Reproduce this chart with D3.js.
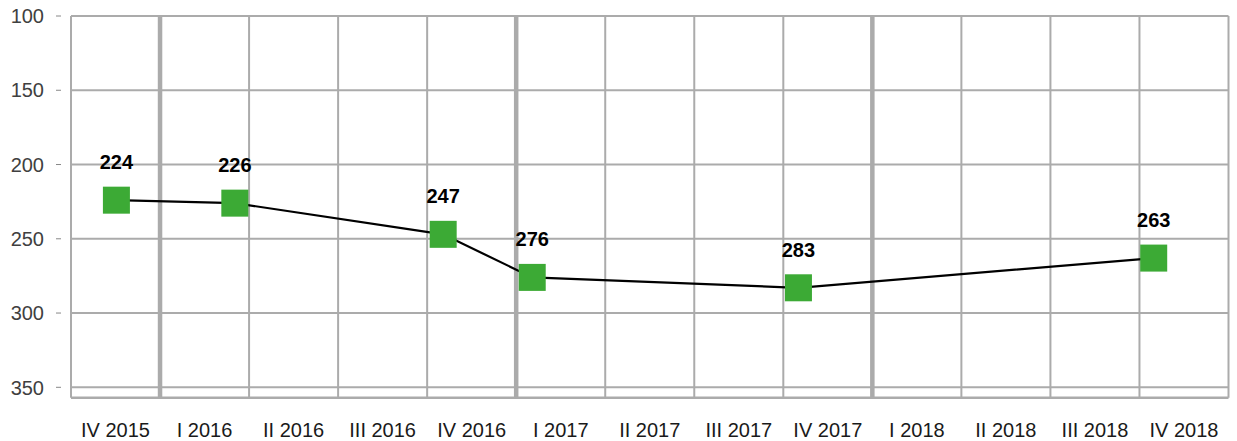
<!DOCTYPE html>
<html>
<head>
<meta charset="utf-8">
<script src="https://cdn.jsdelivr.net/npm/d3@7"></script>
<style>
  html, body { margin: 0; padding: 0; background: #fff; }
  svg { display: block; font-family: "Liberation Sans", Arial, sans-serif; }
</style>
</head>
<body>
<svg id="chart" width="1237" height="441"></svg>
<script>
// Category (quarter) labels along the x axis
const categories = ["IV 2015", "I 2016", "II 2016", "III 2016", "IV 2016", "I 2017", "II 2017",
                    "III 2017", "IV 2017", "I 2018", "II 2018", "III 2018", "IV 2018"];
// Year boundaries (index of the first quarter of each year)
const yearStarts = [1, 5, 9];
// Series: position in quarters from the start of IV 2015, and value
const timeIndex = [0.51, 1.84, 4.18, 5.18, 8.17, 12.16];
const values = [224, 226, 247, 276, 283, 263];
// Y axis ticks
const yTicks = [100, 150, 200, 250, 300, 350];

(function () {
const svg = d3.select("#chart");
const mLeft = 71, mRight = 1228.5, mTop = 16, mBottom = 397.7;

const x = d3.scaleLinear().domain([0, categories.length]).range([mLeft, mRight]);
const y = d3.scaleLinear().domain([100, 357]).range([mTop, mBottom]);

const grid = svg.append("g");
const gridColor = "#ababab";

// horizontal gridlines
grid.selectAll("line.h").data(yTicks).join("line")
  .attr("x1", mLeft).attr("x2", mRight)
  .attr("y1", d => y(d)).attr("y2", d => y(d))
  .attr("stroke", gridColor).attr("stroke-width", 2);

// vertical gridlines
const vIdx = d3.range(0, categories.length + 1);
grid.selectAll("line.v").data(vIdx).join("line")
  .attr("x1", d => x(d)).attr("x2", d => x(d))
  .attr("y1", mTop).attr("y2", mBottom)
  .attr("stroke", gridColor)
  .attr("stroke-width", d => yearStarts.includes(d) ? 4.5 : 2);

// bottom border
grid.append("line")
  .attr("x1", mLeft).attr("x2", mRight)
  .attr("y1", mBottom).attr("y2", mBottom)
  .attr("stroke", gridColor).attr("stroke-width", 2.5);

// y axis tick marks and labels
const yAxis = svg.append("g");
yAxis.selectAll("line").data(yTicks).join("line")
  .attr("x1", 56).attr("x2", 61)
  .attr("y1", d => y(d)).attr("y2", d => y(d))
  .attr("stroke", "#888").attr("stroke-width", 1);
yAxis.selectAll("text").data(yTicks).join("text")
  .attr("x", 44).attr("y", d => y(d))
  .attr("dy", "0.36em")
  .attr("text-anchor", "end")
  .attr("font-size", 20)
  .attr("fill", "#404040")
  .text(d => d);

// x axis labels
svg.append("g").selectAll("text").data(categories).join("text")
  .attr("x", (d, i) => x(i + 0.5))
  .attr("y", 437)
  .attr("text-anchor", "middle")
  .attr("font-size", 20)
  .attr("fill", "#1a1a1a")
  .text(d => d);

// series
const pts = values.map((v, i) => ({ t: timeIndex[i], v }));
const line = d3.line().x(d => x(d.t)).y(d => y(d.v));
svg.append("path")
  .datum(pts)
  .attr("d", line)
  .attr("fill", "none")
  .attr("stroke", "#000")
  .attr("stroke-width", 2.2);

const ms = 27;
svg.append("g").selectAll("rect").data(pts).join("rect")
  .attr("x", d => x(d.t) - ms / 2)
  .attr("y", d => y(d.v) - ms / 2)
  .attr("width", ms).attr("height", ms)
  .attr("fill", "#3caa35");

svg.append("g").selectAll("text").data(pts).join("text")
  .attr("x", d => x(d.t))
  .attr("y", d => y(d.v) - 31)
  .attr("text-anchor", "middle")
  .attr("font-size", 20)
  .attr("font-weight", "bold")
  .attr("fill", "#000")
  .text(d => d.v);
})();
</script>
</body>
</html>
